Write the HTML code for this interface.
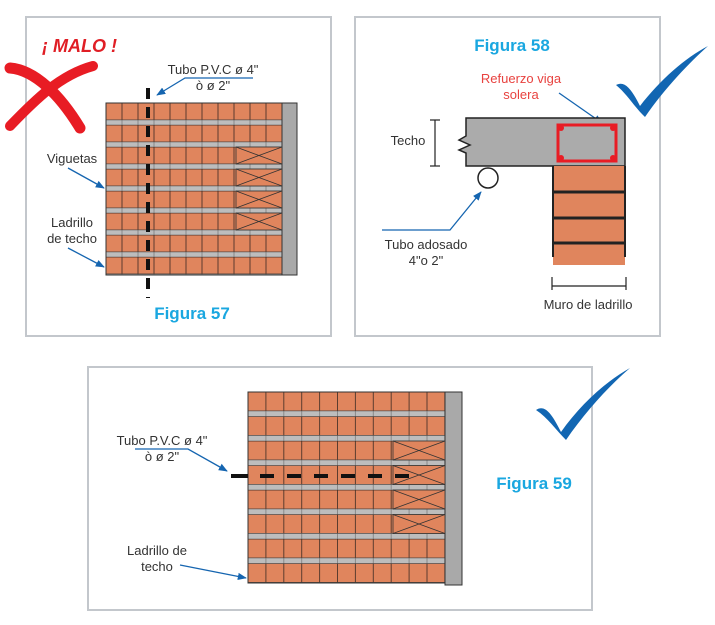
<!DOCTYPE html>
<html><head><meta charset="utf-8"><style>
html,body{margin:0;padding:0;background:#fff;}
svg{display:block;font-family:"Liberation Sans",sans-serif;}
</style></head><body>
<svg width="715" height="625" viewBox="0 0 715 625" xmlns="http://www.w3.org/2000/svg">
<defs>
<pattern id="b1" patternUnits="userSpaceOnUse" x="106" y="103" width="16" height="22">
<rect x="0" y="0" width="16" height="17" fill="#e0855d" stroke="#3a2a22" stroke-width="0.8"/>
<rect x="0" y="17" width="16" height="5" fill="#bdbdbd" stroke="#555" stroke-width="0.5"/>
</pattern>
<pattern id="b3" patternUnits="userSpaceOnUse" x="248" y="392" width="17.9" height="24.5">
<rect x="0" y="0" width="17.9" height="19" fill="#e0855d" stroke="#3a2a22" stroke-width="0.8"/>
<rect x="0" y="19" width="17.9" height="5.5" fill="#bdbdbd" stroke="#555" stroke-width="0.5"/>
</pattern>
<marker id="ar" viewBox="0 0 10 10" refX="9" refY="5" markerWidth="7" markerHeight="7" orient="auto"><path d="M0,1 L10,5 L0,9 z" fill="#1565b0"/></marker>
</defs>

<!-- Panel 1 -->
<rect x="26" y="17" width="305" height="319" fill="none" stroke="#c3c7cc" stroke-width="2"/>
<text x="42" y="52" fill="#e01e25" font-size="18" font-style="italic" font-weight="bold">¡ MALO !</text>
<path d="M10,68 C35,70 60,95 80,128" stroke="#e81c24" stroke-width="11" fill="none" stroke-linecap="round"/>
<path d="M10,126 C35,100 60,75 93,66" stroke="#e81c24" stroke-width="10" fill="none" stroke-linecap="round"/>
<rect x="106" y="103" width="176" height="172" fill="url(#b1)" stroke="#333" stroke-width="1"/>
<rect x="282" y="103" width="15" height="172" fill="#a9a9a9" stroke="#333" stroke-width="1"/>
<g stroke="#333" stroke-width="0.8" fill="#e0855d">
<rect x="236" y="147" width="46" height="17"/><path d="M236,147 L282,164 M236,164 L282,147"/>
<rect x="236" y="169" width="46" height="17"/><path d="M236,169 L282,186 M236,186 L282,169"/>
<rect x="236" y="191" width="46" height="17"/><path d="M236,191 L282,208 M236,208 L282,191"/>
<rect x="236" y="213" width="46" height="17"/><path d="M236,213 L282,230 M236,230 L282,213"/>
</g>
<line x1="148" y1="88" x2="148" y2="298" stroke="#111" stroke-width="4" stroke-dasharray="11,8"/>
<text x="213" y="74" font-size="13" fill="#333" text-anchor="middle">Tubo P.V.C ø 4"</text>
<text x="213" y="90" font-size="13" fill="#333" text-anchor="middle">ò  ø 2"</text>
<path d="M253,78 L185,78 L157,95" stroke="#1565b0" stroke-width="1.3" fill="none" marker-end="url(#ar)"/>
<text x="72" y="163" font-size="13" fill="#333" text-anchor="middle">Viguetas</text>
<path d="M68,168 L104,188" stroke="#1565b0" stroke-width="1.3" fill="none" marker-end="url(#ar)"/>
<text x="72" y="227" font-size="13" fill="#333" text-anchor="middle">Ladrillo</text>
<text x="72" y="243" font-size="13" fill="#333" text-anchor="middle">de techo</text>
<path d="M68,248 L104,267" stroke="#1565b0" stroke-width="1.3" fill="none" marker-end="url(#ar)"/>
<text x="192" y="319" font-size="17" font-weight="bold" fill="#1aa7e0" text-anchor="middle">Figura 57</text>

<!-- Panel 2 -->
<rect x="355" y="17" width="305" height="319" fill="none" stroke="#c3c7cc" stroke-width="2"/>
<text x="512" y="51" font-size="17" font-weight="bold" fill="#1aa7e0" text-anchor="middle">Figura 58</text>
<text x="521" y="83" font-size="13" fill="#e8423f" text-anchor="middle">Refuerzo viga</text>
<text x="521" y="99" font-size="13" fill="#e8423f" text-anchor="middle">solera</text>
<path d="M559,93 L602,123" stroke="#1565b0" stroke-width="1.3" fill="none" marker-end="url(#ar)"/>
<path d="M466,118 L625,118 L625,166 L466,166 L466,153 L459,150 L470,145 L459,140 L466,136 Z" fill="#ababab" stroke="#222" stroke-width="1.5"/>
<rect x="558" y="125" width="58" height="36" fill="none" stroke="#e81c24" stroke-width="3"/>
<g fill="#e81c24"><circle cx="561" cy="128" r="3"/><circle cx="613" cy="128" r="3"/><circle cx="561" cy="158" r="3"/><circle cx="613" cy="158" r="3"/></g>
<rect x="553" y="166" width="72" height="99" fill="#e0855d"/>
<g stroke="#222" stroke-width="3"><line x1="553" y1="192" x2="625" y2="192"/><line x1="553" y1="218" x2="625" y2="218"/><line x1="553" y1="243" x2="625" y2="243"/></g>
<line x1="553" y1="166" x2="553" y2="257" stroke="#222" stroke-width="2"/>
<line x1="625" y1="166" x2="625" y2="257" stroke="#222" stroke-width="2"/>
<circle cx="488" cy="178" r="10" fill="#fff" stroke="#222" stroke-width="1.5"/>
<g stroke="#222" stroke-width="1.2"><line x1="435" y1="120" x2="435" y2="166"/><line x1="430" y1="120" x2="440" y2="120"/><line x1="430" y1="166" x2="440" y2="166"/>
<line x1="552" y1="286" x2="626" y2="286"/><line x1="552" y1="277" x2="552" y2="290"/><line x1="626" y1="277" x2="626" y2="290"/></g>
<text x="408" y="145" font-size="13" fill="#333" text-anchor="middle">Techo</text>
<path d="M382,230 L450,230 L481,192" stroke="#1565b0" stroke-width="1.3" fill="none" marker-end="url(#ar)"/>
<text x="426" y="249" font-size="13" fill="#333" text-anchor="middle">Tubo adosado</text>
<text x="426" y="265" font-size="13" fill="#333" text-anchor="middle">4"o 2"</text>
<text x="588" y="309" font-size="13" fill="#333" text-anchor="middle">Muro de ladrillo</text>
<path d="M616,85 C625,80 632,90 640,106 C660,80 685,58 708,46 C690,62 665,88 645,117 C635,108 628,95 616,85 Z" fill="#1266b2"/>

<!-- Panel 3 -->
<rect x="88" y="367" width="504" height="243" fill="none" stroke="#c3c7cc" stroke-width="2"/>
<rect x="248" y="392" width="197" height="191" fill="url(#b3)" stroke="#333" stroke-width="1"/>
<rect x="445" y="392" width="17" height="193" fill="#a9a9a9" stroke="#333" stroke-width="1"/>
<g stroke="#333" stroke-width="0.8" fill="#e0855d">
<rect x="393" y="441" width="52" height="19"/><path d="M393,441 L445,460 M393,460 L445,441"/>
<rect x="393" y="465.5" width="52" height="19"/><path d="M393,465.5 L445,484.5 M393,484.5 L445,465.5"/>
<rect x="393" y="490" width="52" height="19"/><path d="M393,490 L445,509 M393,509 L445,490"/>
<rect x="393" y="514.5" width="52" height="19"/><path d="M393,514.5 L445,533.5 M393,533.5 L445,514.5"/>
</g>
<line x1="231" y1="476" x2="248" y2="476" stroke="#111" stroke-width="4"/>
<line x1="260" y1="476" x2="420" y2="476" stroke="#111" stroke-width="4" stroke-dasharray="14,13"/>
<text x="162" y="445" font-size="13" fill="#333" text-anchor="middle">Tubo P.V.C ø 4"</text>
<text x="162" y="461" font-size="13" fill="#333" text-anchor="middle">ò  ø 2"</text>
<path d="M135,449 L188,449 L227,471" stroke="#1565b0" stroke-width="1.3" fill="none" marker-end="url(#ar)"/>
<text x="157" y="555" font-size="13" fill="#333" text-anchor="middle">Ladrillo de</text>
<text x="157" y="571" font-size="13" fill="#333" text-anchor="middle">techo</text>
<path d="M180,565 L246,578" stroke="#1565b0" stroke-width="1.3" fill="none" marker-end="url(#ar)"/>
<text x="534" y="489" font-size="17" font-weight="bold" fill="#1aa7e0" text-anchor="middle">Figura 59</text>
<path d="M536,410 C545,404 552,414 561,432 C580,405 605,382 630,368 C610,385 585,412 566,440 C556,430 548,418 536,410 Z" fill="#1266b2"/>
</svg>
</body></html>
